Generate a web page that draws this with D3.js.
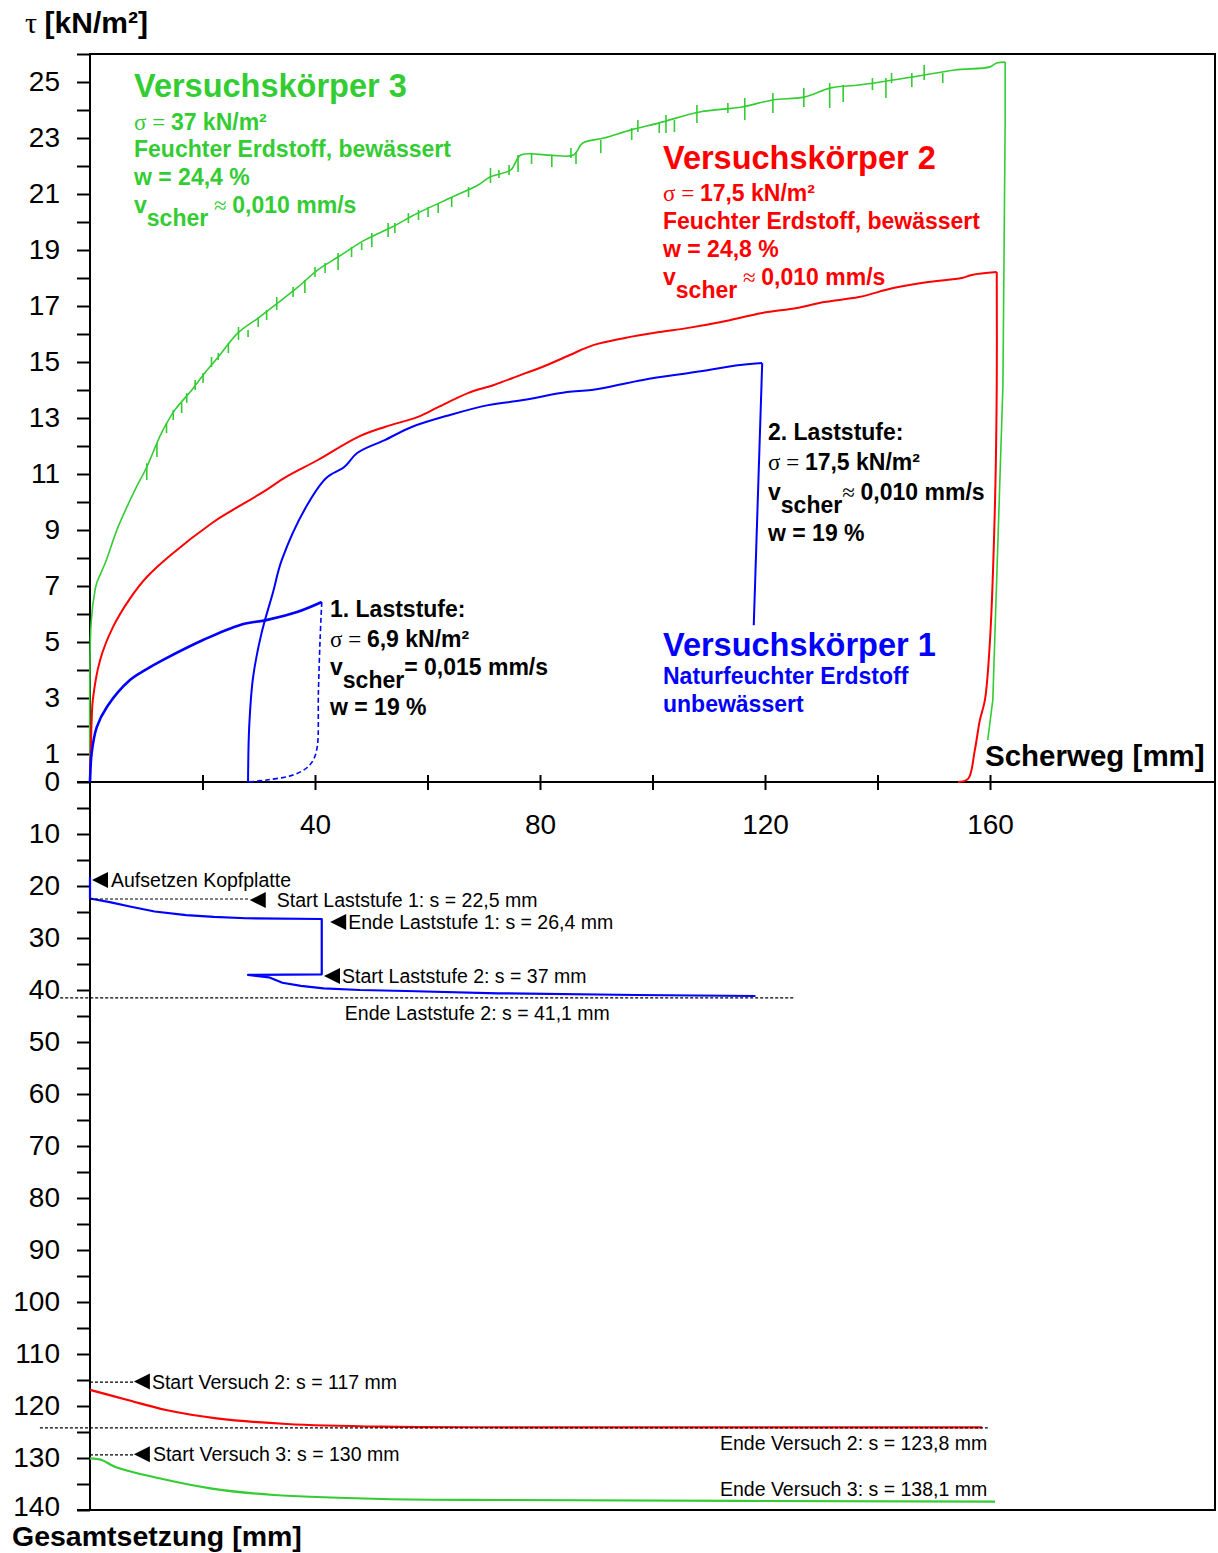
<!DOCTYPE html>
<html lang="de">
<head>
<meta charset="UTF-8">
<title>Scherversuche – Scherweg und Gesamtsetzung</title>
<script src="https://d3js.org/d3.v7.min.js"></script>
<style>
  body { margin: 0; background: #fff; }
  svg { display: block; font-family: "Liberation Sans", Arial, sans-serif; }
  .tick text { font-size: 28px; fill: #000; }
  .tick line { stroke: #000; stroke-width: 2; }
  .ann { font-size: 19.5px; fill: #000; }
  .sym { font-family: "Liberation Serif", "Times New Roman", serif; font-weight: normal; }
</style>
</head>
<body>
<svg id="chart"></svg>
<script>
// ---- Daten ----
// Scherweg s [mm], Scherspannung tau [kN/m²]
const blueStage1 = [[0,0],[0.3,1.04],[1.2,1.96],[3.0,2.68],[7.1,3.64],[10.0,4.02],[13.0,4.36],[20.1,5.07],[26.7,5.61],[31.5,5.79],[36.8,6.07],[41.2,6.43]];
const blueUnload1 = [[41.2,6.43],[40.9,5.07],[40.6,3.18],[40.4,1.26],[39.7,0.79],[38.5,0.5],[36.1,0.25],[31.4,0.07],[28.1,0]];
const blueStage2 = [[28.1,0],[28.3,1.96],[29.0,3.75],[30.5,5.32],[32.5,6.75],[34.1,7.93],[38.4,9.82],[42.0,10.86],[45.2,11.25],[47.5,11.75],[52.4,12.21],[57.2,12.68],[64.0,13.11],[70.8,13.46],[77.0,13.64],[84.8,13.93],[89.2,14.0],[98.3,14.36],[107.6,14.64],[115.6,14.89],[119.5,14.96]];
const blueUnload2 = [[119.5,14.96],[118.0,5.6]];
const redShear = [[0,0],[0.3,2.21],[0.5,2.93],[1.8,4.36],[4.1,5.54],[7.1,6.55],[10.1,7.32],[14.2,8.08],[21.7,9.25],[24.5,9.61],[30.8,10.36],[34.8,10.89],[40.5,11.5],[47.6,12.32],[52.4,12.68],[58.3,13.04],[61.9,13.39],[67.2,13.89],[71.8,14.18],[76.6,14.54],[80.4,14.82],[85.3,15.25],[89.6,15.61],[95.1,15.86],[101.2,16.07],[106.1,16.21],[112.2,16.43],[119.5,16.75],[125.7,16.93],[130.5,17.14],[136.7,17.32],[142.8,17.64],[149.0,17.86],[155.0,18.0],[156.8,18.11],[161.2,18.21]];
const redUnload = [[161.2,18.21],[161.2,14.18],[160.9,10.07],[160.0,5.07],[159.1,2.93],[158.2,2.21],[157.3,1.14],[156.1,0.11],[154.3,0]];
const greenShear = [[0,0],[0.2,5.68],[0.9,6.86],[1.2,7.11],[2.7,7.82],[5.0,9.11],[8.0,10.43],[10.1,11.25],[12.7,12.46],[15.1,13.29],[18.1,14.0],[20.4,14.61],[22.8,15.18],[26.3,16.04],[29.9,16.57],[33.4,17.11],[37.0,17.68],[40.5,18.29],[44.1,18.75],[48.9,19.36],[53.7,19.82],[58.3,20.32],[64.4,20.89],[69.0,21.32],[71.1,21.61],[74.8,21.86],[76.6,22.39],[81.6,22.39],[85.9,22.39],[87.6,22.82],[91.4,23.0],[96.2,23.29],[101.2,23.54],[108.4,23.93],[115.9,24.11],[121.4,24.36],[126.9,24.46],[131.7,24.79],[136.7,24.89],[142.8,25.07],[148.3,25.25],[153.8,25.43],[160.0,25.54],[161.2,25.68],[162.7,25.71]];
const greenUnload = [[162.7,25.71],[162.7,23.71],[162.3,14.18],[160.5,2.93],[159.6,1.5]];
// Messspitzen Versuch 3: [s, tau unten, tau oben]
const greenSpikes = [[10.1,10.79,11.38],[11.9,11.61,12.11],[13.6,12.46,12.82],[14.8,12.93,13.29],[16.3,13.18,13.54],[17.2,13.54,13.89],[18.7,14.0,14.36],[20.1,14.25,14.61],[21.6,14.82,15.18],[22.8,15.07,15.32],[24.6,15.32,15.68],[26.4,15.79,16.25],[28.1,15.89,16.14],[29.9,16.25,16.61],[31.4,16.5,16.86],[33.2,16.86,17.32],[36.1,17.32,17.68],[38.2,17.46,17.93],[40.0,18.04,18.39],[41.8,18.18,18.54],[44.1,18.29,18.89],[46.5,18.75,19.11],[48.3,19.0,19.25],[50.1,19.11,19.61],[53.0,19.46,19.96],[54.2,19.61,19.96],[56.6,19.96,20.32],[58.4,20.07,20.43],[60.1,20.18,20.54],[61.9,20.32,20.68],[64.3,20.54,20.89],[67.3,20.89,21.25],[71.2,21.39,21.93],[72.7,21.57,21.86],[74.5,21.68,22.04],[76.1,21.79,22.39],[78.5,22.07,22.46],[82.1,21.96,22.39],[85.5,22.29,22.64],[86.4,22.07,22.5],[90.8,22.46,22.93],[96.3,22.93,23.36],[97.4,23.21,23.64],[101.2,23.18,23.57],[102.4,23.18,23.82],[103.9,23.21,23.64],[107.9,23.54,24.18],[113.4,23.89,24.25],[116.4,23.64,24.43],[121.4,23.89,24.61],[126.9,24.11,24.79],[131.5,24.07,24.96],[133.9,24.29,24.89],[139.1,24.71,25.14],[141.5,24.43,25.14],[142.5,24.96,25.32],[146.1,24.82,25.32],[148.3,25.07,25.61],[151.6,24.96,25.32]];
// Gesamtsetzung [mm] über Scherweg [mm]
const blueSettle = [[0,18.3],[0,22.4],[3.5,23.1],[7.3,24.0],[11.5,24.9],[17.1,25.6],[22.0,25.95],[27.7,26.2],[41.2,26.35],[41.2,36.98],[28.1,37.1],[31.8,37.56],[34.2,38.6],[37.5,39.2],[41.5,39.67],[48.0,40.0],[56.2,40.19],[72.5,40.63],[97.1,40.96],[118.3,41.15]];
const redSettle = [[0,116.9],[6.7,118.85],[13.5,120.77],[22.5,122.37],[35.0,123.46],[52.0,123.98],[74.7,124.1],[158.6,124.1]];
const greenSettle = [[0,130.06],[2.1,130.38],[4.4,131.67],[12.3,133.9],[21.4,135.83],[32.7,137.12],[52.0,137.88],[74.7,138.08],[160.9,138.4]];

// Achsen-Ticks
const tauTicks = d3.range(0, 27);
const tauLabels = [0,1,3,5,7,9,11,13,15,17,19,21,23,25];
const setTicks = d3.range(5, 141, 5);
const setLabels = [10,20,30,40,50,60,70,80,90,100,110,120,130,140];
const sTicks = [20,40,60,80,100,120,140,160];
const sLabels = [40,80,120,160];

const GREEN = "#33cc33", RED = "#ff0000", BLUE = "#0000ff";
const width = 1218, height = 1553;
const svg = d3.select("#chart").attr("width", width).attr("height", height);

const x = d3.scaleLinear().domain([0, 200]).range([90, 1215]);
const yTau = d3.scaleLinear().domain([0, 26]).range([782, 54]);
const ySet = d3.scaleLinear().domain([0, 140]).range([782, 1510]);

// Achsen
svg.append("g").attr("transform", "translate(90,0)")
  .call(d3.axisLeft(yTau).tickValues(tauTicks).tickSize(13).tickPadding(17)
    .tickFormat(d => tauLabels.includes(d) ? d : ""))
  .call(g => g.select(".domain").remove())
  .call(g => g.selectAll("text").attr("font-family", null));
svg.append("g").attr("transform", "translate(90,0)")
  .call(d3.axisLeft(ySet).tickValues(setTicks).tickSize(13).tickPadding(17)
    .tickFormat(d => setLabels.includes(d) ? d : ""))
  .call(g => g.select(".domain").remove())
  .call(g => g.selectAll("text").attr("font-family", null)
    .filter(d => d === 140).attr("dy", "0.2em"));
svg.append("g").attr("transform", "translate(0,782)")
  .call(d3.axisBottom(x).tickValues(sTicks).tickSize(8).tickPadding(24)
    .tickFormat(d => sLabels.includes(d) ? d : ""))
  .call(g => g.select(".domain").remove())
  .call(g => g.selectAll("text").attr("font-family", null));
svg.append("g").attr("transform", "translate(0,782)")
  .call(d3.axisTop(x).tickValues(sTicks).tickSize(7).tickFormat(""))
  .call(g => g.select(".domain").remove());

// Rahmen und Nulllinie
svg.append("rect").attr("x", x(0)).attr("y", yTau(26))
  .attr("width", x(200) - x(0)).attr("height", ySet(140) - yTau(26))
  .attr("fill", "none").attr("stroke", "#000").attr("stroke-width", 2);
svg.append("line").attr("x1", 77).attr("x2", x(200)).attr("y1", yTau(0)).attr("y2", yTau(0))
  .attr("stroke", "#000").attr("stroke-width", 2);
svg.append("line").attr("x1", 77).attr("x2", 90).attr("y1", ySet(140)).attr("y2", ySet(140))
  .attr("stroke", "#000").attr("stroke-width", 2);

// Kurven
const smooth = d3.curveCatmullRom.alpha(0.5);
const lineTau = d3.line().curve(smooth).x(d => x(d[0])).y(d => yTau(d[1]));
const lineTauStep = d3.line().x(d => x(d[0])).y(d => yTau(d[1]));
const lineSet = d3.line().curve(smooth).x(d => x(d[0])).y(d => ySet(d[1]));
const lineSetStep = d3.line().x(d => x(d[0])).y(d => ySet(d[1]));
function path(data, gen, color, w, dash) {
  svg.append("path").datum(data).attr("d", gen)
    .attr("fill", "none").attr("stroke", color).attr("stroke-width", w)
    .attr("stroke-linejoin", "round").attr("stroke-dasharray", dash || null);
}
path(greenShear, lineTau, GREEN, 1.6);
path(greenUnload, lineTauStep, GREEN, 1.6);
svg.append("g").selectAll("line").data(greenSpikes).join("line")
  .attr("x1", d => x(d[0])).attr("x2", d => x(d[0]))
  .attr("y1", d => yTau(d[1])).attr("y2", d => yTau(d[2]))
  .attr("stroke", GREEN).attr("stroke-width", 1.6);
path(redShear, lineTau, RED, 2);
path(redUnload, lineTau, RED, 2);
path(blueStage1, lineTau, BLUE, 2.6);
path(blueUnload1, lineTau, BLUE, 1.6, "5,3");
path(blueStage2, lineTau, BLUE, 2);
path(blueUnload2, lineTauStep, BLUE, 2);
path(blueSettle, lineSetStep, BLUE, 2.2);
path(redSettle, lineSet, RED, 2.2);
path(greenSettle, lineSet, GREEN, 2.2);

// Achsentitel
const tauTitle = svg.append("text").attr("x", 25).attr("y", 33)
  .attr("font-size", 30).attr("font-weight", "bold");
tauTitle.append("tspan").attr("class", "sym").text("τ ");
tauTitle.append("tspan").text("[kN/m²]");
svg.append("text").attr("x", 985).attr("y", 766).attr("font-size", 29.5)
  .attr("font-weight", "bold").text("Scherweg [mm]");
svg.append("text").attr("x", 12).attr("y", 1546).attr("font-size", 28.5)
  .attr("font-weight", "bold").text("Gesamtsetzung [mm]");

// Textblöcke: Teile [Text, Art] mit Art b = fett, s = Symbol, sub = tiefgestellt
function block(x0, color, lines) {
  const g = svg.append("g").attr("fill", color).attr("font-weight", "bold");
  lines.forEach(l => {
    const t = g.append("text").attr("x", x0).attr("y", l.y).attr("font-size", l.size || 23);
    l.parts.forEach(([txt, kind]) => {
      const sp = t.append("tspan").text(txt)
        .attr("y", kind === "sub" ? l.y + (l.sub || 13) : l.y);
      if (kind === "s") sp.attr("class", "sym");
    });
  });
}
block(134, GREEN, [
  {y: 97, size: 32.5, parts: [["Versuchskörper 3"]]},
  {y: 130, parts: [["σ = ", "s"], ["37 kN/m²"]]},
  {y: 157, parts: [["Feuchter Erdstoff, bewässert"]]},
  {y: 185, parts: [["w = 24,4 %"]]},
  {y: 213, parts: [["v"], ["scher", "sub"], [" ≈ ", "s"], ["0,010 mm/s"]]}
]);
block(663, RED, [
  {y: 169, size: 32.5, parts: [["Versuchskörper 2"]]},
  {y: 201, parts: [["σ = ", "s"], ["17,5 kN/m²"]]},
  {y: 229, parts: [["Feuchter Erdstoff, bewässert"]]},
  {y: 257, parts: [["w = 24,8 %"]]},
  {y: 285, parts: [["v"], ["scher", "sub"], [" ≈ ", "s"], ["0,010 mm/s"]]}
]);
block(663, BLUE, [
  {y: 656, size: 32.5, parts: [["Versuchskörper 1"]]},
  {y: 684, parts: [["Naturfeuchter Erdstoff"]]},
  {y: 712, parts: [["unbewässert"]]}
]);
block(330, "#000", [
  {y: 617, parts: [["1. Laststufe:"]]},
  {y: 647, parts: [["σ = ", "s"], ["6,9 kN/m²"]]},
  {y: 675, parts: [["v"], ["scher", "sub"], ["= 0,015 mm/s"]]},
  {y: 715, parts: [["w = 19 %"]]}
]);
block(768, "#000", [
  {y: 440, parts: [["2. Laststufe:"]]},
  {y: 470, parts: [["σ = ", "s"], ["17,5 kN/m²"]]},
  {y: 500, parts: [["v"], ["scher", "sub"], ["≈ ", "s"], ["0,010 mm/s"]]},
  {y: 541, parts: [["w = 19 %"]]}
]);

// Markierungen Setzungsdiagramm
const dotted = [[0, 28.4, 22.5], [-5.3, 125.2, 41.5], [0, 7.8, 115.4], [-8.9, 159.6, 124.2], [0, 7.8, 129.4]];
svg.append("g").selectAll("line").data(dotted).join("line")
  .attr("x1", d => x(d[0])).attr("x2", d => x(d[1]))
  .attr("y1", d => ySet(d[2])).attr("y2", d => ySet(d[2]))
  .attr("stroke", "#000").attr("stroke-width", 1.2).attr("stroke-dasharray", "3,2");

const arrows = [
  {s: 0.36, z: 18.85, gap: 19, text: "Aufsetzen Kopfplatte"},
  {s: 28.4, z: 22.7, gap: 27, text: "Start Laststufe 1: s = 22,5 mm"},
  {s: 42.7, z: 26.9, gap: 18, text: "Ende Laststufe 1: s = 26,4 mm"},
  {s: 41.6, z: 37.3, gap: 18, text: "Start Laststufe 2: s = 37 mm"},
  {s: 7.8, z: 115.3, gap: 18, text: "Start Versuch 2: s = 117 mm"},
  {s: 7.8, z: 129.3, gap: 19, text: "Start Versuch 3: s = 130 mm"}
];
const ag = svg.append("g");
arrows.forEach(a => {
  const px = x(a.s), py = ySet(a.z);
  ag.append("path").attr("d", `M${px},${py} L${px + 16},${py - 8} L${px + 16},${py + 8} Z`).attr("fill", "#000");
  ag.append("text").attr("class", "ann").attr("x", px + a.gap).attr("y", py).attr("dy", "0.36em").text(a.text);
});
const notes = [
  {s: 45.3, z: 44.4, anchor: "start", text: "Ende Laststufe 2: s = 41,1 mm"},
  {s: 159.5, z: 127.1, anchor: "end", text: "Ende Versuch 2: s = 123,8 mm"},
  {s: 159.5, z: 136.0, anchor: "end", text: "Ende Versuch 3: s = 138,1 mm"}
];
ag.selectAll("text.note").data(notes).join("text").attr("class", "ann note")
  .attr("x", d => x(d.s)).attr("y", d => ySet(d.z)).attr("dy", "0.36em")
  .attr("text-anchor", d => d.anchor).text(d => d.text);
</script>
</body>
</html>
